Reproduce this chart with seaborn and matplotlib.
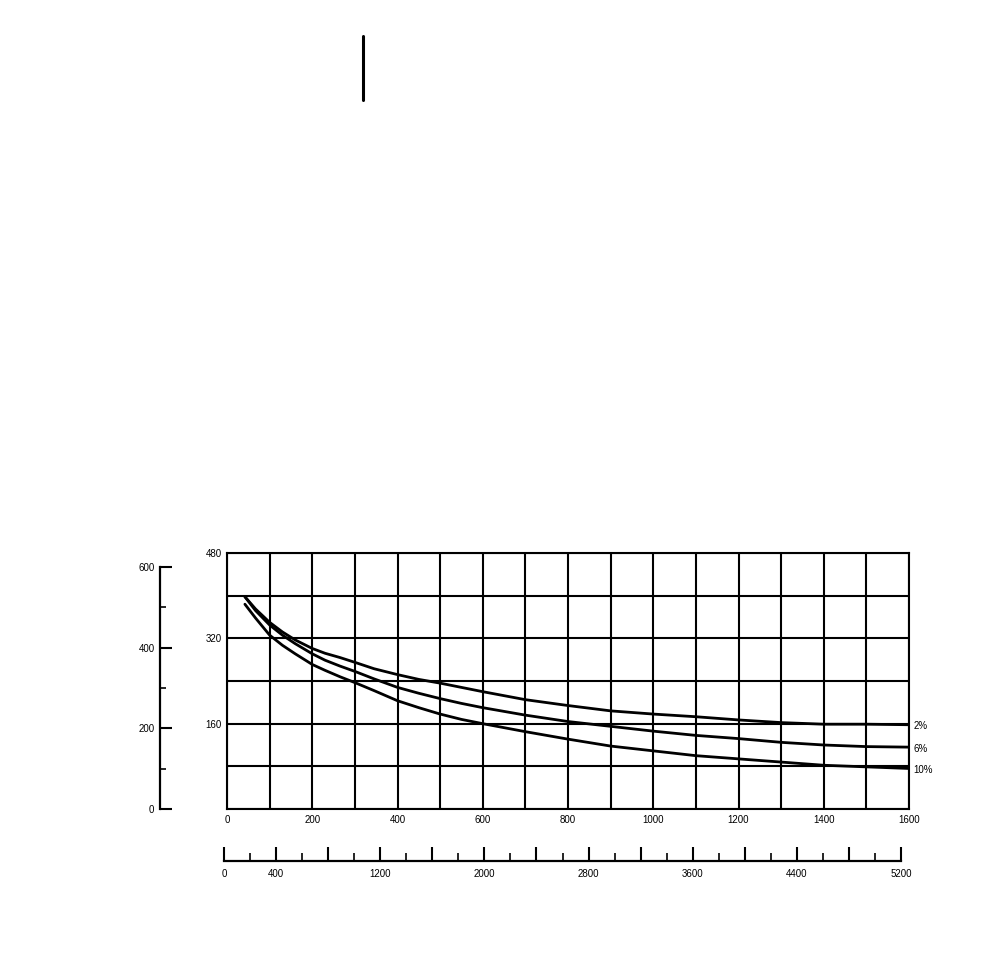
import matplotlib
matplotlib.use("Agg")
import matplotlib.pyplot as plt
from matplotlib.lines import Line2D
from matplotlib.ticker import MultipleLocator, FixedLocator
import seaborn as sns
import pandas as pd

# ---- data ----
x_vals = [42, 67, 100, 130, 160, 200, 230, 265, 300, 345, 400, 450, 500, 550, 600,
          700, 800, 900, 1000, 1100, 1200, 1300, 1400, 1500, 1600]
s_2pct = [398, 375, 350, 332, 317, 301, 292, 284, 275, 263, 252, 243, 236, 228, 220,
          205, 194, 184, 178, 173, 167, 162, 159, 159, 158]
s_6pct = [398, 372, 345, 326, 310, 291, 279, 268, 258, 244, 228, 217, 207, 198, 190,
          176, 164, 155, 146, 138, 132, 125, 120, 117, 116]
s_10pct = [384, 358, 326, 307, 291, 271, 260, 248, 237, 222, 203, 190, 178, 168, 160,
           145, 131, 118, 109, 100, 94, 88, 82, 79, 76]
series_labels = ["2%", "6%", "10%"]

main_xticks = [0, 200, 400, 600, 800, 1000, 1200, 1400, 1600]
main_yticks = [160, 320, 480]
left_ticks = [0, 200, 400, 600]
bottom_ticks = [0, 400, 1200, 2000, 2800, 3600, 4400, 5200]

df = pd.DataFrame({
    "x": x_vals * 3,
    "y": s_2pct + s_6pct + s_10pct,
    "s": [series_labels[0]] * len(x_vals) + [series_labels[1]] * len(x_vals) + [series_labels[2]] * len(x_vals),
})

sns.set_theme(style="white")
plt.rcParams['font.family'] = ['Liberation Sans', 'DejaVu Sans']

W, H = 985, 963
fig = plt.figure(figsize=(W / 100, H / 100), dpi=100)

def fx(px):
    return px / W

def fy(py):
    return 1 - py / H

# main axes
ax = fig.add_axes([fx(227), fy(809), fx(909) - fx(227), fy(553) - fy(809)])
sns.lineplot(data=df, x="x", y="y", hue="s", palette=["black"] * 3, ax=ax,
             linewidth=2.0, legend=False, sort=True)
ax.set_xlim(0, 1600)
ax.set_ylim(0, 480)
ax.grid(True, color="black", linewidth=1.5)
ax.set_xticks(list(range(0, 1601, 100)))
ax.set_xticklabels([str(v) if v in main_xticks else "" for v in range(0, 1601, 100)])
ax.set_yticks(list(range(0, 481, 80)))
ax.set_yticklabels([str(v) if v in main_yticks else "" for v in range(0, 481, 80)])
ax.tick_params(axis="both", length=0, labelsize=7, colors="black", pad=4)
ax.set_xlabel("")
ax.set_ylabel("")
for sp in ax.spines.values():
    sp.set_color("black")
    sp.set_linewidth(1.5)

# end labels
label_y = [s_2pct[-1], s_6pct[-1], s_10pct[-1]]
for lab, yv in zip(series_labels, label_y):
    ax.text(1.006, yv - 3, lab, transform=ax.get_yaxis_transform(), fontsize=7,
            va="center", ha="left", color="black")

# left secondary axis
axl = fig.add_axes([fx(160), fy(809), 0.02, fy(567) - fy(809)])
axl.set_ylim(0, 600)
axl.set_xlim(0, 1)
axl.patch.set_alpha(0)
for k in ["top", "right", "bottom"]:
    axl.spines[k].set_visible(False)
axl.spines["left"].set_linewidth(1.6)
axl.spines["left"].set_color("black")
axl.set_xticks([])
axl.yaxis.set_major_locator(FixedLocator(left_ticks))
axl.yaxis.set_minor_locator(MultipleLocator(100))
axl.tick_params(axis="y", which="major", direction="in", length=8.5, width=1.5,
                labelsize=7, colors="black", pad=4, left=True)
axl.tick_params(axis="y", which="minor", direction="in", length=4, width=1.2,
                colors="black", left=True)

# bottom secondary axis
axb = fig.add_axes([fx(224), fy(861), fx(901) - fx(224), 0.02])
axb.set_xlim(0, 5200)
axb.set_ylim(0, 1)
axb.patch.set_alpha(0)
for k in ["top", "right", "left"]:
    axb.spines[k].set_visible(False)
axb.spines["bottom"].set_linewidth(1.6)
axb.spines["bottom"].set_color("black")
axb.set_yticks([])
major_b = list(range(0, 5201, 400))
axb.xaxis.set_major_locator(FixedLocator(major_b))
axb.set_xticklabels([str(v) if v in bottom_ticks else "" for v in major_b])
axb.xaxis.set_minor_locator(FixedLocator(list(range(200, 5200, 400))))
axb.tick_params(axis="x", which="major", direction="in", length=10, width=1.5,
                labelsize=7, colors="black", pad=6, bottom=True)
axb.tick_params(axis="x", which="minor", direction="in", length=5.5, width=1.2,
                colors="black", bottom=True)

# stray vertical mark at top
fig.add_artist(Line2D([fx(363), fx(363)], [fy(36), fy(100)], color="black", linewidth=2.2))

fig.savefig("out.png", dpi=100, facecolor="white")
